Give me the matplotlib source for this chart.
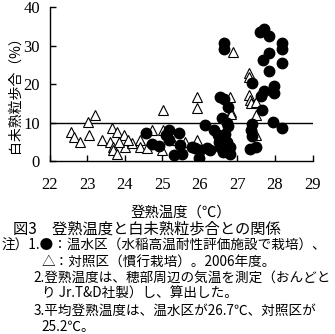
import matplotlib
matplotlib.use("Agg")
import matplotlib.pyplot as plt

plt.rcParams['font.family'] = ['Noto Sans CJK JP', 'DejaVu Sans']

# 温水区 (●): 登熟温度 (℃), 白未熟粒歩合 (%)
warm_temp = [24.56, 24.72, 24.90, 25.10, 25.17, 25.19, 25.32, 25.45, 25.47, 25.52,
             25.80, 25.97, 26.01, 26.14, 26.19, 26.37, 26.47, 26.50, 26.54, 26.61,
             26.72, 26.81, 26.79, 26.59, 26.72, 26.76, 26.54, 26.65, 26.74, 26.63,
             26.63, 27.39, 27.40, 27.36, 27.34, 27.50, 27.65, 27.63, 27.71, 27.68,
             27.83, 27.61, 27.70, 27.83, 27.83, 27.98, 27.98, 27.96, 28.18, 28.18,
             28.18, 28.18, 26.68, 26.55, 26.70, 25.88, 26.28, 27.38]
warm_rate = [7.3, 4.5, 4.0, 6.8, 8.1, 5.5, 1.6, 7.3, 4.2, 1.9,
             3.8, 0.8, 2.9, 9.4, 3.4, 8.1, 6.8, 5.1, 3.8, 2.5,
             5.1, 3.8, 1.9, 11.2, 10.0, 9.2, 16.8, 16.1, 14.0, 30.8,
             29.1, 20.4, 9.7, 8.1, 3.2, 3.8, 13.3, 17.0, 18.1, 26.3,
             28.2, 33.5, 34.3, 32.6, 23.5, 19.6, 17.8, 10.3, 30.8, 29.1,
             25.6, 8.6, 7.0, 6.0, 2.8, 3.5, 3.0, 6.5]

# 対照区 (△)
ctrl_temp = [22.58, 22.66, 22.80, 23.02, 23.06, 23.20, 23.39, 23.66, 23.61, 23.70,
             23.79, 23.70, 23.79, 23.97, 24.00, 24.20, 24.40, 24.40, 24.72, 24.60,
             25.01, 25.03, 25.00, 25.25, 25.60, 25.92, 25.92, 25.92, 26.87, 26.81,
             26.84, 27.30, 27.30, 27.30, 27.33, 27.35, 27.50, 27.50, 27.50, 26.84,
             23.85, 24.10]
ctrl_rate = [7.7, 6.2, 5.1, 10.1, 6.8, 11.9, 5.5, 8.6, 5.1, 3.8,
             7.7, 2.9, 1.9, 6.8, 3.8, 4.7, 5.5, 3.8, 8.1, 3.4,
             13.3, 8.1, 2.9, 5.5, 5.1, 16.8, 13.8, 5.5, 28.3, 16.8,
             12.9, 22.9, 21.8, 17.2, 16.0, 15.0, 15.5, 12.0, 6.8, 12.3,
             5.0, 5.5]

threshold = 10
x_ticks = [22, 23, 24, 25, 26, 27, 28, 29]
y_ticks = [0, 10, 20, 30, 40]

caption_title = "図3　登熟温度と白未熟粒歩合との関係"
caption_notes = [
    (0.005, "注）1.●：温水区（水稲高温耐性評価施設で栽培）、"),
    (0.125, "△：対照区（慣行栽培）。2006年度。"),
    (0.100, "2.登熟温度は、穂部周辺の気温を測定（おんどと"),
    (0.125, "り Jr.T&D社製）し、算出した。"),
    (0.100, "3.平均登熟温度は、温水区が26.7℃、対照区が"),
    (0.125, "25.2℃。"),
]

fig = plt.figure(figsize=(3.35, 3.34), dpi=100)
ax = fig.add_axes([0.148, 0.517, 0.785, 0.462])

ax.plot(ctrl_temp, ctrl_rate, linestyle='none', marker='^', markersize=7.5,
        markerfacecolor='white', markeredgecolor='black', markeredgewidth=0.8,
        zorder=2)
ax.plot(warm_temp, warm_rate, linestyle='none', marker='o', markersize=7.5,
        markerfacecolor='black', markeredgecolor='black', zorder=3)
ax.axhline(threshold, color='black', linewidth=1.0, zorder=1)

ax.set_xlim(22, 29)
ax.set_ylim(0, 40)
ax.set_xticks(x_ticks)
ax.set_yticks(y_ticks)
ax.tick_params(direction='in', length=4, width=1, labelsize=12)
ax.tick_params(axis='x', pad=11)
ax.tick_params(axis='y', pad=7)
for lbl in ax.get_xticklabels() + ax.get_yticklabels():
    lbl.set_fontfamily('Liberation Serif')
for s in ['top', 'right']:
    ax.spines[s].set_visible(False)
for s in ['left', 'bottom']:
    ax.spines[s].set_linewidth(1)

ax.set_xlabel("登熟温度（℃）", fontsize=10.4, va='center')
ax.xaxis.set_label_coords(0.5, -0.33)
ax.set_ylabel("白未熟粒歩合（%）", fontsize=10, va='center')
ax.yaxis.set_label_coords(-0.131, 0.456)

fig.text(0.04, 0.313, caption_title, fontsize=11, va='center', ha='left')
ys = [0.264, 0.215, 0.168, 0.120, 0.068, 0.022]
for (x, t), y in zip(caption_notes, ys):
    fig.text(x, y, t, fontsize=9.8, va='center', ha='left')

fig.savefig("out.png", dpi=100)
